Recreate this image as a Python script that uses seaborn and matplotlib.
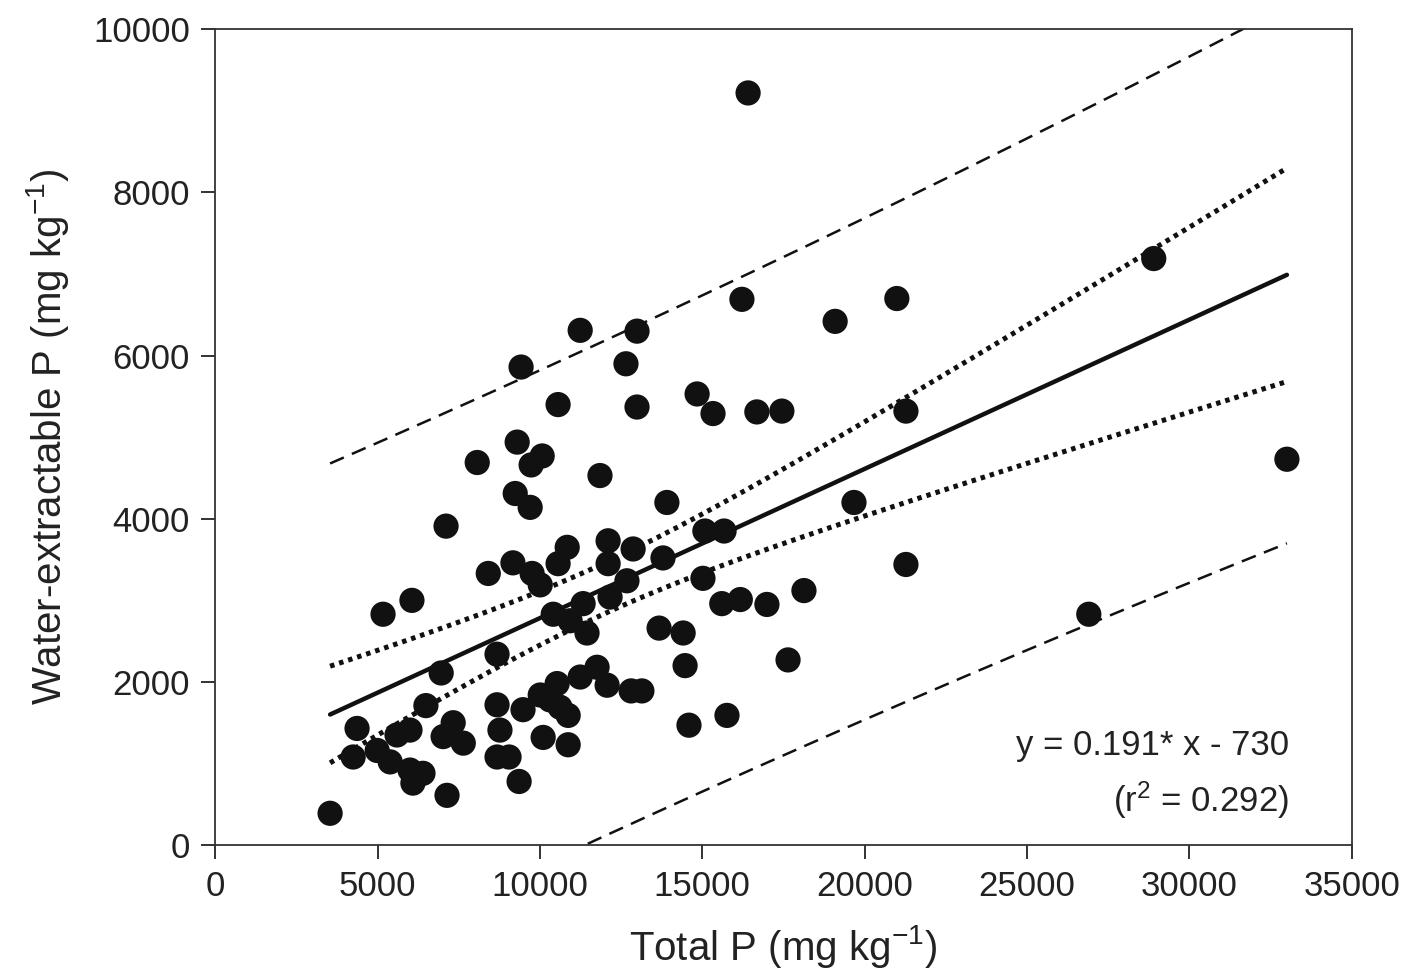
"""
Water-extractable P vs Total P scatter with regression,
95% confidence band (dotted) and prediction band (dashed).
"""

import numpy as np
import pandas as pd
import matplotlib
matplotlib.use("Agg")
import matplotlib.pyplot as plt
import seaborn as sns


TOTAL_P = [
    16410, 28900, 33000, 26900, 16220, 20990, 19090, 11240, 12990, 9420,
    12650, 10560, 12990, 14840, 15330, 16680, 17450, 21270, 9300, 10070,
    9730, 8070, 11850, 9240, 9700, 7110, 13910, 19670, 15080, 15670,
    10840, 12100, 12870, 9170, 10560, 9760, 12100, 8410, 10010, 12680,
    13790, 21270, 5170, 6060, 15020, 15600, 16170, 16990, 18130, 12160,
    11330, 10410, 10930, 11450, 13670, 14410, 8680, 6960, 14470, 17640,
    11760, 11240, 12070, 12810, 13140, 15760, 14590, 6490, 4370, 7330,
    7020, 7640, 3540, 4250, 4990, 5600, 6000, 5390, 6000, 6400,
    6090, 7140, 9360, 10530, 10010, 9480, 8680, 10870, 8770, 10100,
    10870, 8680, 9050, 10310, 10620,
]

WATER_EXTRACTABLE_P = [
    9220, 7190, 4730, 2830, 6690, 6700, 6420, 6310, 6300, 5860,
    5900, 5400, 5370, 5530, 5290, 5310, 5320, 5320, 4940, 4770,
    4660, 4690, 4530, 4310, 4140, 3910, 4200, 4200, 3850, 3850,
    3650, 3730, 3630, 3460, 3450, 3330, 3450, 3330, 3190, 3240,
    3520, 3440, 2830, 3000, 3270, 2960, 3010, 2950, 3120, 3040,
    2960, 2830, 2750, 2600, 2660, 2600, 2340, 2110, 2200, 2270,
    2180, 2060, 1960, 1890, 1890, 1590, 1470, 1710, 1430, 1500,
    1330, 1250, 390, 1080, 1160, 1350, 1410, 1020, 920, 880,
    760, 610, 780, 1980, 1840, 1660, 1720, 1590, 1410, 1320,
    1230, 1080, 1080, 1780, 1690,
]

X_TICKS = [0, 5000, 10000, 15000, 20000, 25000, 30000, 35000]
Y_TICKS = [0, 2000, 4000, 6000, 8000, 10000]

EQUATION_TEXT = "y = 0.191* x - 730"
R2_TEXT = r"(r$^2$ = 0.292)"
T_95 = 1.986


def regression_bands(data: pd.DataFrame) -> pd.DataFrame:
    """
    Fit OLS line and compute confidence / prediction bands.
    """
    x = data["Total P"].to_numpy(float)
    y = data["Water P"].to_numpy(float)
    n = len(x)
    slope, intercept = np.polyfit(x, y, 1)
    resid = y - (slope * x + intercept)
    se = np.sqrt(np.sum(resid ** 2) / (n - 2))
    sxx = np.sum((x - x.mean()) ** 2)

    grid = np.linspace(x.min(), x.max(), 200)
    fit = slope * grid + intercept
    conf = T_95 * se * np.sqrt(1 / n + (grid - x.mean()) ** 2 / sxx)
    pred = T_95 * se * np.sqrt(1 + 1 / n + (grid - x.mean()) ** 2 / sxx)

    return pd.DataFrame({
        "x": grid,
        "fit": fit,
        "conf_lo": fit - conf,
        "conf_hi": fit + conf,
        "pred_lo": fit - pred,
        "pred_hi": fit + pred,
    })


def main() -> None:
    sns.set_theme(style="ticks")
    plt.rcParams["font.family"] = ["Liberation Sans", "DejaVu Sans"]
    plt.rcParams["mathtext.default"] = "regular"

    data = pd.DataFrame({
        "Total P": TOTAL_P,
        "Water P": WATER_EXTRACTABLE_P,
    })
    bands = regression_bands(data)

    fig = plt.figure(figsize=(14.06, 9.77), dpi=100)
    ax = fig.add_axes([0.153, 0.135, 0.8085, 0.835])

    sns.lineplot(data=bands, x="x", y="fit", ax=ax, color="#111111",
                 linewidth=3.2, zorder=2)
    for col in ["conf_lo", "conf_hi"]:
        sns.lineplot(data=bands, x="x", y=col, ax=ax, color="#111111",
                     linewidth=3.6, linestyle=(0, (0.9, 1.0)), zorder=2)
    for col in ["pred_lo", "pred_hi"]:
        sns.lineplot(data=bands, x="x", y=col, ax=ax, color="#111111",
                     linewidth=1.8, linestyle=(0, (6, 3.5)), zorder=2)

    sns.scatterplot(data=data, x="Total P", y="Water P", ax=ax,
                    s=330, color="#111111", edgecolor="none", zorder=3)

    ax.set_xlim(0, 35000)
    ax.set_ylim(0, 10000)
    ax.set_xticks(X_TICKS)
    ax.set_yticks(Y_TICKS)
    ax.tick_params(axis="both", labelsize=25, length=10, width=1.3,
                   direction="out", colors="#222222", pad=8)
    for spine in ax.spines.values():
        spine.set_linewidth(1.3)
        spine.set_color("#333333")

    ax.set_xlabel(r"Total P (mg kg$^{-1}$)", fontsize=29, color="#222222",
                  labelpad=14)
    ax.set_ylabel(r"Water-extractable P (mg kg$^{-1}$)", fontsize=29,
                  color="#222222", labelpad=16)

    ax.text(0.945, 0.122, EQUATION_TEXT, transform=ax.transAxes,
            ha="right", va="center", fontsize=25, color="#222222")
    ax.text(0.945, 0.055, R2_TEXT, transform=ax.transAxes,
            ha="right", va="center", fontsize=25, color="#222222")

    fig.savefig("out.png", dpi=100)


if __name__ == "__main__":
    main()
